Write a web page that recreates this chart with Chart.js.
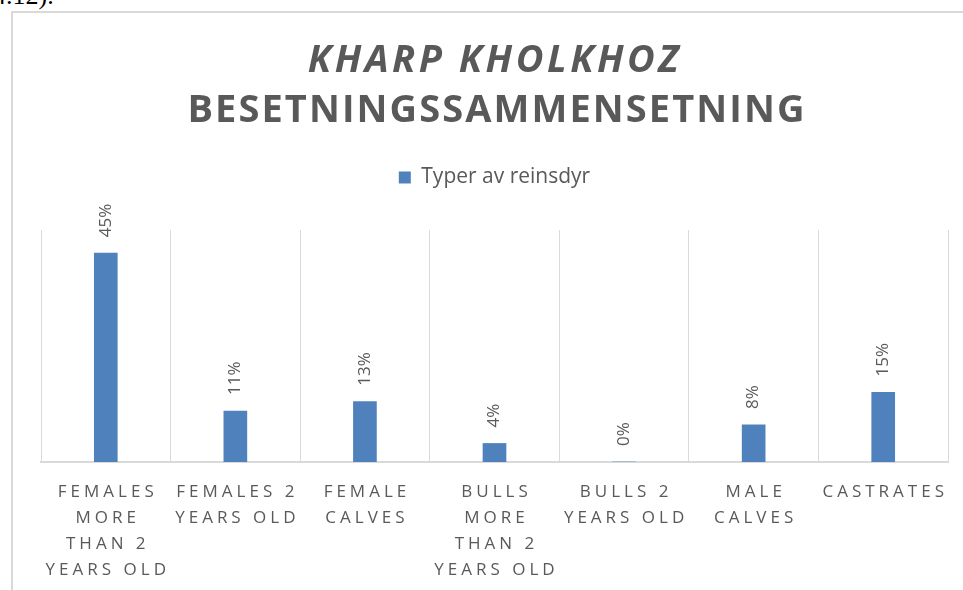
<!DOCTYPE html>
<html>
<head>
<meta charset="utf-8">
<script src="https://cdn.jsdelivr.net/npm/chart.js@4"></script>
<style>
  html, body { margin: 0; padding: 0; background: #ffffff; }
  body { width: 963px; height: 590px; position: relative; overflow: hidden; }
  #pageText { position: absolute; left: -7px; top: -19px; font: 26px "Liberation Serif", serif; color: #000; }
  #frame { position: absolute; left: 11px; top: 11px; width: 960px; height: 600px; border-left: 2px solid #d9d9d9; border-top: 2px solid #d9d9d9; }
  #wrap { position: absolute; left: 0; top: 0; width: 963px; height: 590px; }
</style>
</head>
<body>
<div id="pageText">4.12).</div>
<div id="frame"></div>
<div id="wrap"><canvas id="barChart"></canvas></div>
<script>
// data
const categories = [
  ['FEMALES', 'MORE', 'THAN 2', 'YEARS OLD'],
  ['FEMALES 2', 'YEARS OLD'],
  ['FEMALE', 'CALVES'],
  ['BULLS', 'MORE', 'THAN 2', 'YEARS OLD'],
  ['BULLS 2', 'YEARS OLD'],
  ['MALE', 'CALVES'],
  ['CASTRATES']
];
const seriesName = 'Typer av reinsdyr';
const values = [45, 11, 13, 4, 0, 8, 15];
const titleLines = ['KHARP KHOLKHOZ', 'BESETNINGSSAMMENSETNING'];

const textGrey = '#595959';
const barBlue = '#4f81bd';
const gridGrey = '#d9d9d9';

// titles (italic first line, letter spaced)
const titlePlugin = {
  id: 'titleLines',
  afterDraw(chart) {
    const ctx = chart.ctx;
    ctx.save();
    ctx.fillStyle = textGrey;
    ctx.textAlign = 'center';
    ctx.textBaseline = 'alphabetic';
    ctx.letterSpacing = '3.5px';
    ctx.font = 'italic bold 38px "Open Sans"';
    ctx.fillText(titleLines[0], 495, 72);
    ctx.letterSpacing = '2.1px';
    ctx.font = 'bold 38px "Open Sans"';
    ctx.fillText(titleLines[1], 497, 122);
    ctx.restore();
  }
};

// rotated value labels above the bars
const valueLabels = {
  id: 'valueLabels',
  afterDatasetsDraw(chart) {
    const ctx = chart.ctx;
    const meta = chart.getDatasetMeta(0);
    ctx.save();
    ctx.fillStyle = textGrey;
    ctx.font = '17px "Open Sans"';
    ctx.textAlign = 'left';
    ctx.textBaseline = 'middle';
    meta.data.forEach((bar, i) => {
      ctx.save();
      ctx.translate(bar.x, bar.y - 16);
      ctx.rotate(-Math.PI / 2);
      ctx.fillText(values[i] + '%', 0, 0);
      ctx.restore();
    });
    ctx.restore();
  }
};

// category labels, letter spaced, under the axis
const categoryLabels = {
  id: 'categoryLabels',
  afterDraw(chart) {
    const ctx = chart.ctx;
    const xScale = chart.scales.x;
    ctx.save();
    ctx.fillStyle = textGrey;
    ctx.font = '17px "Open Sans"';
    ctx.letterSpacing = '4px';
    ctx.textAlign = 'center';
    ctx.textBaseline = 'middle';
    categories.forEach((lines, i) => {
      const x = xScale.getPixelForTick(i);
      lines.forEach((line, j) => {
        ctx.fillText(line, x + 2, chart.chartArea.bottom + 30 + j * 26);
      });
    });
    ctx.restore();
  }
};

// extra space under the legend
const legendGap = {
  id: 'legendGap',
  beforeInit(chart) {
    const fit = chart.legend.fit;
    chart.legend.fit = function () {
      fit.bind(chart.legend)();
      this.height += 32;
    };
  }
};

const barChart = document.getElementById('barChart');

const myBarChart = new Chart(barChart, {
  type: 'bar',
  data: {
    labels: categories,
    datasets: [{
      label: seriesName,
      data: values,
      backgroundColor: barBlue,
      barThickness: 23
    }]
  },
  options: {
    responsive: true,
    maintainAspectRatio: false,
    animation: false,
    layout: {
      padding: { top: 157, left: 41, right: 15, bottom: 128 }
    },
    plugins: {
      legend: {
        display: true,
        position: 'top',
        labels: {
          color: textGrey,
          boxWidth: 12,
          boxHeight: 12,
          padding: 10,
          font: { family: '"Open Sans"', size: 21 }
        }
      },
      tooltip: { enabled: false }
    },
    scales: {
      x: {
        offset: true,
        grid: {
          display: true,
          offset: true,
          color: gridGrey,
          drawTicks: false
        },
        border: { display: true, color: gridGrey, width: 2 },
        ticks: { display: false }
      },
      y: {
        display: false,
        min: 0,
        max: 50
      }
    }
  },
  plugins: [titlePlugin, valueLabels, categoryLabels, legendGap]
});
</script>
</body>
</html>
